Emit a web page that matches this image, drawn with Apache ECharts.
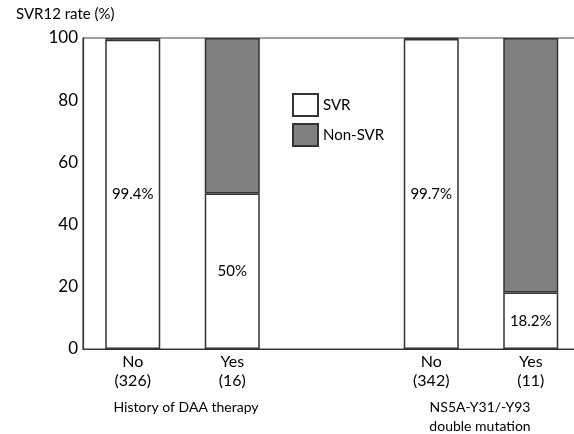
<!DOCTYPE html>
<html>
<head>
<meta charset="utf-8">
<script src="https://cdn.jsdelivr.net/npm/echarts@6/dist/echarts.min.js"></script>
<style>html,body{margin:0;padding:0;background:#fff}#c{width:574px;height:434px}</style>
</head>
<body>
<div id="c"></div>
<script>
const categories = ['No\n(326)', 'Yes\n(16)', '', 'No\n(342)', 'Yes\n(11)'];
const svrValues = [99.4, 50, null, 99.7, 18.2];
const nonSvrValues = [0.6, 50, null, 0.3, 81.8];
const svrLabels = ['99.4%', '50%', '', '99.7%', '18.2%'];
const yTicks = [0, 20, 40, 60, 80, 100];
const groupLabels = ['History of DAA therapy', 'NS5A-Y31/-Y93\ndouble mutation'];

const FONT = 'Lato';
const INK = '#000';
const chart = echarts.init(document.getElementById('c'), null, {renderer: 'canvas'});
chart.setOption({
  animation: false,
  textStyle: {fontFamily: FONT},
  grid: {left: 83, top: 38, width: 497.5, height: 311, outerBoundsMode: 'none', containLabel: false,
    show: true, borderColor: '#444', borderWidth: 1.2, backgroundColor: 'transparent'},
  legend: {
    orient: 'vertical', left: 292, top: 93, padding: 0, itemWidth: 25, itemHeight: 22, itemGap: 6,
    icon: 'rect',
    textStyle: {fontFamily: FONT, fontSize: 15, color: INK},
    data: ['SVR', 'Non-SVR']
  },
  graphic: [
    {type: 'text', left: 16, top: 7, style: {text: 'SVR12 rate (%)', font: '15px ' + FONT, fill: INK}},
    {type: 'text', x: 186, y: 407, style: {text: groupLabels[0], font: '14px ' + FONT, fill: INK, align: 'center', verticalAlign: 'middle'}},
    {type: 'text', x: 480, y: 417, style: {text: groupLabels[1], font: '14px ' + FONT, fill: INK, align: 'center', verticalAlign: 'middle', lineHeight: 19}}
  ],
  xAxis: {
    type: 'category', data: categories,
    axisLine: {lineStyle: {color: '#333', width: 1.2}},
    axisTick: {show: false},
    axisLabel: {fontFamily: FONT, fontSize: 16, color: INK, lineHeight: 19, margin: 3}
  },
  yAxis: {
    type: 'value', min: 0, max: 100, interval: 20,
    axisLine: {show: true, lineStyle: {color: '#333', width: 1.2}},
    axisTick: {show: false},
    splitLine: {show: false},
    axisLabel: {fontFamily: FONT, fontSize: 17, color: INK, margin: 5,
      formatter: v => yTicks.includes(v) ? String(v) : ''}
  },
  series: [
    {name: 'SVR', type: 'bar', stack: 's', barWidth: 55, data: svrValues,
      itemStyle: {color: '#ffffff', borderColor: '#333', borderWidth: 1.5},
      label: {show: true, position: 'inside', fontFamily: FONT, fontSize: 15, color: INK,
        formatter: p => svrLabels[p.dataIndex]}},
    {name: 'Non-SVR', type: 'bar', stack: 's', barWidth: 55, data: nonSvrValues,
      itemStyle: {color: '#808080', borderColor: '#333', borderWidth: 1.5}}
  ]
});
</script>
</body>
</html>
